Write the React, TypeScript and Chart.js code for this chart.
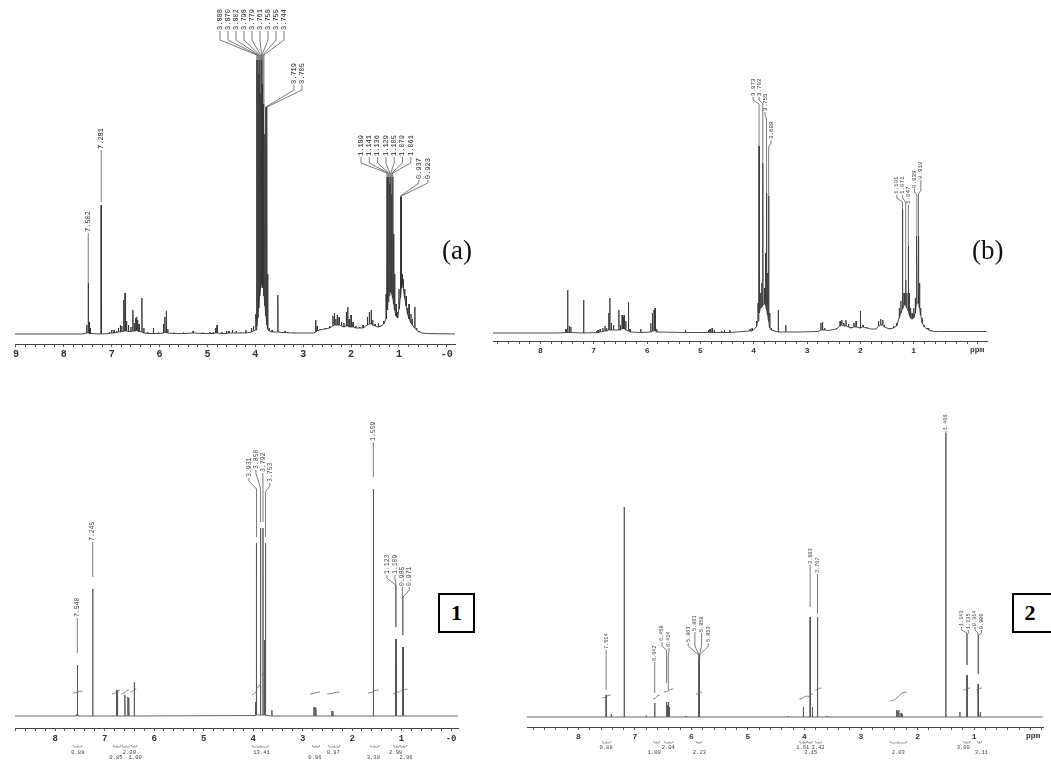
import React, { useEffect, useRef } from 'react';
import { Chart, registerables } from 'chart.js';
Chart.register(...registerables);

type Peak = [number, number, number]; // [ppm, peak top, local baseline]
type Integral = [number, number, number, number]; // [ppm from, ppm to, level start, level end]

// ===================== DATA =====================
// ---- Spectrum (a)
const peaksA: Peak[] = [
  [9.02, 0, 0], [7.6, 0, 0],
  [7.52, 9, 1], [7.49, 51, 1], [7.47, 12, 1], [7.45, 6, 0.5],
  [7.22, 129, 0],
  [7.05, 2, 0.5], [7.0, 4, 1], [6.95, 4, 1], [6.9, 3, 1.5], [6.86, 6, 2], [6.82, 9, 2], [6.79, 8, 2.5],
  [6.75, 34, 3], [6.72, 41, 3], [6.69, 13, 3], [6.65, 9, 2.5], [6.6, 7, 2.5],
  [6.56, 24, 3], [6.53, 11, 3], [6.5, 16, 3], [6.48, 17, 3.5], [6.46, 14, 3], [6.43, 10, 2.5],
  [6.37, 36, 2], [6.33, 6, 1], [6.25, 2, 0.5], [6.13, 6, 0.5], [6.02, 1.5, 0.5],
  [5.92, 10, 1], [5.89, 17, 1.5], [5.86, 23, 1.5], [5.83, 5, 1],
  [5.7, 1.5, 0.5], [5.5, 1.5, 0.5], [5.3, 3, 1], [5.1, 1.5, 0.5], [4.95, 2, 0.5], [4.88, 2, 0.5],
  [4.83, 6, 1], [4.8, 9, 1], [4.7, 2, 0.5], [4.6, 3, 0.5], [4.55, 3, 1], [4.48, 4, 1], [4.4, 3, 1], [4.3, 1.5, 1],
  [4.2, 4, 1], [4.08, 6, 2], [4.04, 8, 3],
  [3.99, 20, 4], [3.97, 274, 8], [3.95, 274, 16], [3.93, 260, 26], [3.91, 274, 38], [3.89, 240, 46],
  [3.87, 274, 50], [3.86, 250, 50], [3.84, 230, 46], [3.82, 227, 38], [3.8, 200, 28], [3.78, 227, 18],
  [3.76, 227, 9], [3.74, 60, 5], [3.71, 6, 3], [3.65, 4, 2],
  [3.53, 39, 2], [3.45, 2, 1.5], [3.38, 3, 1.5], [3.2, 1.5, 1], [2.9, 1, 1], [2.78, 1, 1],
  [2.74, 14, 2], [2.71, 8, 3], [2.65, 5, 4], [2.55, 6, 5], [2.45, 8, 6],
  [2.38, 18, 8], [2.35, 21, 9], [2.32, 15, 9], [2.29, 19, 9], [2.25, 17, 9], [2.2, 12, 8], [2.15, 11, 7],
  [2.1, 22, 8], [2.07, 27, 8], [2.04, 15, 7], [2.0, 19, 7], [1.96, 12, 7], [1.9, 8, 6], [1.82, 7, 6], [1.75, 9, 6],
  [1.66, 17, 9], [1.62, 22, 10], [1.58, 24, 10], [1.55, 14, 9], [1.5, 10, 8], [1.43, 11, 7], [1.37, 9, 8], [1.32, 13, 10],
  [1.27, 40, 15], [1.25, 157, 24], [1.23, 157, 32], [1.21, 157, 38], [1.19, 150, 42], [1.17, 157, 42],
  [1.15, 140, 40], [1.13, 157, 36], [1.11, 100, 30], [1.09, 60, 24], [1.06, 30, 18], [1.03, 22, 16],
  [1.0, 45, 25], [0.97, 137, 36], [0.95, 137, 46], [0.93, 60, 50], [0.91, 55, 46], [0.88, 45, 36],
  [0.85, 38, 28], [0.82, 26, 20], [0.79, 30, 15], [0.75, 20, 11], [0.72, 15, 9], [0.67, 27, 6],
  [0.63, 6, 4], [0.58, 3, 2], [0.52, 1, 1], [0.4, 0.5, 0.5], [-0.17, 0, 0],
];
const labelTextsA: string[][] = [
  ['3.888', '3.870', '3.802', '3.798', '3.779', '3.761', '3.758', '3.755', '3.744'],
  ['3.719', '3.705'],
  ['1.189', '1.141', '1.136', '1.129', '1.105', '1.079', '1.061'],
  ['0.937', '0.923'],
  ['7.502'],
  ['7.281'],
];
const labelPeaksA: number[][] = [
  [3.97, 3.95, 3.93, 3.91, 3.89, 3.87, 3.86, 3.84, 3.82],
  [3.78, 3.76],
  [1.25, 1.23, 1.21, 1.19, 1.17, 1.15, 1.13],
  [0.97, 0.95],
  [7.49],
  [7.22],
];
const majorTicksA = [9, 8, 7, 6, 5, 4, 3, 2, 1, 0];
const majorLabelsA = ['9', '8', '7', '6', '5', '4', '3', '2', '1', '-0'];

// ---- Spectrum (b)
const peaksB: Peak[] = [
  [8.89, 0, 0], [7.7, 0, 0],
  [7.52, 4, 0.5], [7.49, 43, 0.5], [7.46, 7, 0.5], [7.43, 6, 0.5],
  [7.19, 33, 0],
  [6.95, 2, 0.5], [6.92, 3, 0.5], [6.88, 4, 1], [6.83, 5, 1.5], [6.79, 7, 2], [6.76, 5, 2],
  [6.72, 20, 3], [6.7, 35, 3], [6.67, 10, 3], [6.63, 8, 3],
  [6.53, 23, 3], [6.5, 8, 3], [6.47, 18, 4], [6.45, 16, 4], [6.43, 18, 4], [6.4, 12, 3],
  [6.35, 31, 2], [6.32, 4, 1], [6.12, 4, 0.5],
  [5.93, 10, 1], [5.9, 20, 2], [5.87, 23, 2], [5.85, 25, 2], [5.82, 4, 1],
  [5.28, 3, 0.5], [4.85, 3, 0.5], [4.82, 4, 0.5], [4.78, 5, 0.5], [4.74, 3, 0.5], [4.6, 2, 0.5],
  [4.55, 3, 0.5], [4.45, 3, 0.5],
  [4.07, 4, 2], [4.03, 5, 2],
  [3.95, 12, 6], [3.92, 30, 12], [3.9, 187, 20], [3.87, 40, 25], [3.85, 50, 26], [3.83, 170, 28],
  [3.8, 45, 30], [3.78, 80, 28], [3.76, 140, 24], [3.74, 60, 18], [3.72, 137, 12], [3.7, 20, 5],
  [3.67, 5, 3], [3.62, 3, 2],
  [3.54, 23, 1], [3.4, 8, 1], [3.2, 1, 1],
  [2.8, 2, 1.5], [2.74, 10, 3], [2.71, 11, 3], [2.67, 5, 3], [2.6, 3, 2.5],
  [2.45, 5, 4], [2.38, 12, 7], [2.35, 13, 8], [2.31, 10, 7], [2.27, 13, 7], [2.22, 9, 6], [2.18, 6, 5],
  [2.12, 10, 6], [2.08, 12, 6], [2.0, 22, 5], [1.95, 8, 6], [1.88, 6, 5], [1.8, 4, 4], [1.7, 4, 4],
  [1.66, 12, 7], [1.62, 14, 8], [1.58, 13, 8], [1.55, 8, 6], [1.45, 5, 4], [1.38, 7, 5], [1.32, 10, 7],
  [1.27, 25, 15], [1.24, 32, 20], [1.21, 123, 24], [1.18, 40, 28], [1.15, 53, 28], [1.13, 40, 25],
  [1.1, 87, 22], [1.08, 40, 18], [1.06, 25, 15], [1.03, 20, 14], [1.0, 25, 15], [0.97, 35, 20],
  [0.95, 60, 28], [0.94, 97, 30], [0.91, 97, 30], [0.89, 50, 25], [0.87, 25, 18], [0.84, 15, 10],
  [0.8, 8, 6], [0.75, 5, 4], [0.72, 5, 3], [0.67, 3, 2], [0.6, 1.5, 1.5], [0.5, 1.5, 1.5], [-0.37, 1.5, 1.5],
];
const labelTextsB: string[][] = [
  ['3.873', '3.792', '3.755', '3.698'],
  ['1.101', '1.071', '1.047'],
  ['0.939', '0.910'],
];
const labelPeaksB: number[][] = [
  [3.9, 3.83, 3.76, 3.72],
  [1.21, 1.15, 1.1],
  [0.94, 0.91],
];
const majorTicksB = [8, 7, 6, 5, 4, 3, 2, 1];
const majorLabelsB = ['8', '7', '6', '5', '4', '3', '2', '1'];

// ---- Spectrum 1
const peaks1: Peak[] = [
  [8.81, 0, 0],
  [7.56, 2, 0], [7.55, 51, 0], [7.54, 2, 0],
  [7.24, 127, 0],
  [6.76, 26, 0], [6.74, 26, 0],
  [6.59, 21, 0],
  [6.53, 19, 0], [6.51, 18, 0],
  [6.4, 34, 0],
  [3.95, 14, 0.5], [3.94, 14, 1], [3.93, 173, 1], [3.85, 188, 1], [3.8, 188, 1], [3.77, 76, 1], [3.75, 173, 0.5],
  [3.62, 6, 0],
  [2.77, 9, 0], [2.75, 9, 0], [2.73, 8, 0],
  [2.41, 5, 0], [2.39, 5, 0],
  [1.57, 227, 0],
  [1.12, 77, 0], [1.11, 77, 0],
  [0.98, 69, 0], [0.97, 69, 0],
  [-0.14, 0, 0],
];
const labelTexts1: string[][] = [
  ['7.540'], ['7.245'], ['3.931', '3.850', '3.792', '3.753'], ['1.559'], ['1.123', '1.109'], ['0.985', '0.971'],
];
const labelPeaks1: number[][] = [
  [7.55], [7.24], [3.93, 3.85, 3.8, 3.75], [1.57], [1.12, 1.11], [0.98, 0.97],
];
const majorTicks1 = [8, 7, 6, 5, 4, 3, 2, 1, 0];
const majorLabels1 = ['8', '7', '6', '5', '4', '3', '2', '1', '-0'];
const integrals1: Integral[] = [
  [7.64, 7.45, 23, 25], [6.85, 6.69, 22, 26], [6.66, 6.51, 22, 26], [6.48, 6.36, 24, 27],
  [4.02, 3.94, 21, 24], [3.94, 3.86, 27, 31], [3.83, 3.74, 41, 45],
  [2.85, 2.65, 22, 24], [2.5, 2.26, 22, 24], [1.68, 1.46, 23, 26], [1.17, 1.04, 22, 24], [1.02, 0.88, 25, 27],
];
const integVals1 = ['0.88', '0.85', '2.00', '1.00', '13.41', '0.96', '0.97', '3.38', '2.98', '2.96'];
const integPos1 = [7.54, 6.77, 6.5, 6.38, 3.83, 2.75, 2.38, 1.57, 1.12, 0.91];
const integRow1 = [0, 1, 0, 1, 0, 1, 0, 1, 0, 1];
const integBrackets1: [number, number][] = [
  [7.64, 7.45], [6.83, 6.67], [6.65, 6.48], [6.46, 6.34], [4.02, 3.68],
  [2.81, 2.65], [2.48, 2.24], [1.64, 1.45], [1.17, 1.03], [1.03, 0.89],
];

// ---- Spectrum 2
const peaks2: Peak[] = [
  [8.91, 0, 0],
  [7.51, 22, 0], [7.42, 3, 0],
  [7.19, 210, 0],
  [6.8, 1.5, 0],
  [6.65, 14, 0],
  [6.44, 15, 0], [6.425, 12, 0], [6.41, 15, 0], [6.395, 10, 0],
  [6.1, 1, 0],
  [5.87, 58, 0], [5.865, 58, 0], [5.86, 58, 0], [5.855, 58, 0],
  [4.3, 1, 0],
  [4.02, 10, 0],
  [3.9, 100, 0], [3.86, 10, 0], [3.77, 100, 0],
  [3.6, 1, 0],
  [2.37, 7, 0], [2.35, 6, 0], [2.33, 7, 0], [2.29, 4, 0], [2.27, 3, 0],
  [1.5, 284, 0],
  [1.25, 5, 0],
  [1.13, 42, 0], [1.12, 42, 0],
  [0.93, 33, 0], [0.92, 33, 0], [0.89, 5, 0],
  [-0.22, 0, 0],
];
const labelTexts2: string[][] = [
  ['7.514'], ['6.642'], ['6.458', '6.414'], ['5.863', '5.861', '5.858', '5.853'],
  ['3.883', '3.767'], ['1.466'], ['1.149', '1.135'], ['0.914', '0.900'],
];
const labelPeaks2: number[][] = [
  [7.51], [6.65], [6.44, 6.41], [5.87, 5.865, 5.86, 5.855], [3.9, 3.77], [1.5], [1.13, 1.12], [0.93, 0.92],
];
const majorTicks2 = [8, 7, 6, 5, 4, 3, 2, 1];
const majorLabels2 = ['8', '7', '6', '5', '4', '3', '2', '1'];
const integrals2: Integral[] = [
  [7.58, 7.43, 19, 22], [6.68, 6.56, 18, 22], [6.49, 6.32, 25, 28], [5.92, 5.81, 23, 25],
  [4.09, 3.95, 18, 21], [3.95, 3.85, 20, 23], [3.81, 3.7, 27, 29], [2.49, 2.19, 16, 25],
  [1.19, 1.07, 27, 29], [0.96, 0.86, 27, 29],
];
const integVals2 = ['0.88', '1.00', '2.04', '2.23', '1.61', '3.15', '3.42', '2.03', '3.00', '3.11'];
const integPos2 = [7.51, 6.66, 6.41, 5.86, 4.03, 3.89, 3.76, 2.34, 1.19, 0.87];
const integRow2 = [0, 1, 0, 1, 0, 1, 0, 1, 0, 1];
const integBrackets2: [number, number][] = [
  [7.58, 7.43], [6.67, 6.56], [6.48, 6.32], [5.92, 5.81], [4.09, 3.95],
  [3.95, 3.85], [3.81, 3.69], [2.49, 2.19], [1.19, 1.07], [0.95, 0.86],
];

// ===================== LAYOUT / STYLE =====================
const MONO = '"Liberation Mono", "DejaVu Sans Mono", monospace';
type Num = number | number[];
interface GroupLayout { spacing: number; shift: number; text: Num; k1: Num; k2: Num; gap: Num }
interface Layout {
  left: number; top: number; w: number; h: number;
  padL: number; padR: number; padB: number;
  xMin: number; xMax: number; yMin: number; yMax: number;
  hw: number; color: string; lw: number;
  tickFont: number; tickPad: number; labelFont: number; labelColor: string;
  unitPos?: number;
  integFont?: number; brY?: number; rowY?: number[];
  groups: GroupLayout[];
}
interface Panel {
  id: string; peaks: Peak[]; labelTexts: string[][]; labelPeaks: number[][];
  majorTicks: number[]; majorLabels: string[];
  integrals?: Integral[]; integVals?: string[]; integPos?: number[]; integRow?: number[];
  integBrackets?: [number, number][];
  layout: Layout;
}

const g0 = (text: number, gap = 0): GroupLayout => ({ spacing: 0, shift: 0, text, k1: text, k2: text, gap });

const panels: Panel[] = [
  {
    id: 'a', peaks: peaksA, labelTexts: labelTextsA, labelPeaks: labelPeaksA,
    majorTicks: majorTicksA, majorLabels: majorLabelsA,
    layout: {
      left: 0, top: 0, w: 470, h: 370, padL: 15, padR: 15, padB: 6,
      xMin: -0.17, xMax: 9.02, yMin: -10, yMax: 334, hw: 0.004, color: '#333', lw: 0.9,
      tickFont: 10, tickPad: 1, labelFont: 7, labelColor: '#222',
      groups: [
        { spacing: 8, shift: -8.5, text: 303, k1: 294, k2: 279, gap: 0 },
        { spacing: 8, shift: 31.6, text: 249, k1: 244, k2: 227, gap: 0 },
        { spacing: 8.3, shift: -4, text: 177, k1: 171, k2: 161, gap: 0 },
        { spacing: 9, shift: 22.5, text: 154, k1: 151, k2: 138, gap: 0 },
        g0(101), g0(184, 3),
      ],
    },
  },
  {
    id: 'b', peaks: peaksB, labelTexts: labelTextsB, labelPeaks: labelPeaksB,
    majorTicks: majorTicksB, majorLabels: majorLabelsB,
    layout: {
      left: 480, top: 0, w: 571, h: 370, padL: 13, padR: 64, padB: 9,
      xMin: -0.375, xMax: 8.89, yMin: -8, yMax: 333, hw: 0.004, color: '#3a3a3a', lw: 0.9,
      tickFont: 8, tickPad: 2, labelFont: 5.8, labelColor: '#333', unitPos: -0.19,
      groups: [
        { spacing: 6, shift: -2.2, text: [236, 236, 221, 193], k1: [233, 233, 218, 190], k2: [229, 229, 214, 186], gap: 0 },
        { spacing: 5.8, shift: -2.9, text: [138, 138, 128], k1: [135, 135, 125], k2: [131, 131, 121], gap: 0 },
        { spacing: 6.4, shift: 0, text: [144, 153], k1: [141, 143], k2: [138, 139], gap: 0 },
      ],
    },
  },
  {
    id: '1', peaks: peaks1, labelTexts: labelTexts1, labelPeaks: labelPeaks1,
    majorTicks: majorTicks1, majorLabels: majorLabels1,
    integrals: integrals1, integVals: integVals1, integPos: integPos1, integRow: integRow1, integBrackets: integBrackets1,
    layout: {
      left: 0, top: 375, w: 480, h: 390, padL: 15, padR: 22, padB: 17,
      xMin: -0.14, xMax: 8.81, yMin: -12, yMax: 341, hw: 0.004, color: '#555', lw: 0.9,
      tickFont: 9, tickPad: 2, labelFont: 6.5, labelColor: '#444',
      integFont: 5.5, brY: 19, rowY: [25, 30],
      groups: [
        g0(98, 12), g0(174, 12),
        { spacing: 7, shift: -2, text: [238, 246, 243, 233], k1: [235, 243, 240, 230], k2: [227, 228, 228, 224], gap: 6 },
        g0(274, 12),
        { spacing: 8, shift: -5, text: 141, k1: 138, k2: 131, gap: 12 },
        { spacing: 7, shift: 3, text: 129, k1: 126, k2: 119, gap: 12 },
      ],
    },
  },
  {
    id: '2', peaks: peaks2, labelTexts: labelTexts2, labelPeaks: labelPeaks2,
    majorTicks: majorTicks2, majorLabels: majorLabels2,
    integrals: integrals2, integVals: integVals2, integPos: integPos2, integRow: integRow2, integBrackets: integBrackets2,
    layout: {
      left: 480, top: 375, w: 571, h: 390, padL: 47, padR: 8, padB: 18,
      xMin: -0.22, xMax: 8.91, yMin: -10, yMax: 342, hw: 0.003, color: '#555', lw: 0.9,
      tickFont: 8, tickPad: 2, labelFont: 5.2, labelColor: '#444', unitPos: -0.045,
      integFont: 5.5, brY: 16, rowY: [21, 26],
      groups: [
        g0(67, 5), g0(55, 10),
        { spacing: 7, shift: -2, text: [75, 69], k1: [71, 65], k2: [67, 62], gap: [19, 12] },
        { spacing: 6.7, shift: -1, text: [74, 85, 84, 74], k1: 71, k2: 62, gap: 0 },
        { spacing: 7, shift: 0, text: [152, 143], k1: [152, 143], k2: [152, 143], gap: [10, 3] },
        g0(286, 0),
        { spacing: 6.6, shift: -2, text: [90, 87], k1: [87, 84], k2: [84, 82], gap: 10 },
        { spacing: 6.7, shift: 0, text: [90, 87], k1: [87, 84], k2: [84, 82], gap: 10 },
      ],
    },
  },
];

// ===================== HELPERS =====================
const pick = (v: Num, i: number) => (Array.isArray(v) ? v[i] : v);

function tickValues(min: number, max: number): number[] {
  const out: number[] = [];
  for (let k = Math.ceil(min * 5 - 1e-9); k <= Math.floor(max * 5 + 1e-9); k++) out.push(Math.round(k * 2) / 10);
  return out;
}

function peakTop(peaks: Peak[], ppm: number): number {
  let best = peaks[0];
  peaks.forEach((p) => { if (Math.abs(p[0] - ppm) < Math.abs(best[0] - ppm)) best = p; });
  return best[1];
}

function nmrPlugin(p: Panel) {
  return {
    id: 'nmr_' + p.id,
    afterDraw(chart: any) {
      const ctx: CanvasRenderingContext2D = chart.ctx;
      const xs = chart.scales.x;
      const ys = chart.scales.y;
      const L = p.layout;
      const axisY = chart.chartArea.bottom;
      ctx.save();

      // integral curves
      if (p.integrals) {
        ctx.strokeStyle = '#666';
        ctx.lineWidth = 0.8;
        p.integrals.forEach(([a, b, y0, y1]) => {
          const x0 = xs.getPixelForValue(a), x1 = xs.getPixelForValue(b);
          const py0 = ys.getPixelForValue(y0), py1 = ys.getPixelForValue(y1);
          const xm = (x0 + x1) / 2;
          ctx.beginPath();
          ctx.moveTo(x0, py0);
          ctx.bezierCurveTo(xm, py0, xm, py1, x1, py1);
          ctx.stroke();
        });
      }
      // integral brackets and values
      if (p.integBrackets && p.integVals && p.integPos && p.integRow && L.rowY) {
        ctx.strokeStyle = '#777';
        ctx.lineWidth = 0.7;
        const by = axisY + (L.brY || 0);
        p.integBrackets.forEach(([a, b]) => {
          const x0 = xs.getPixelForValue(a), x1 = xs.getPixelForValue(b);
          const xm = (x0 + x1) / 2;
          ctx.beginPath();
          ctx.moveTo(x0, by - 2); ctx.lineTo(x0 + 1, by); ctx.lineTo(x1 - 1, by); ctx.lineTo(x1, by - 2);
          ctx.moveTo(xm, by); ctx.lineTo(xm, by - 1.5);
          ctx.stroke();
        });
        ctx.fillStyle = '#444';
        ctx.font = `${L.integFont}px ${MONO}`;
        ctx.textAlign = 'center';
        ctx.textBaseline = 'middle';
        p.integVals.forEach((t, i) => {
          ctx.fillText(t, xs.getPixelForValue(p.integPos![i]), axisY + L.rowY![p.integRow![i]]);
        });
      }
      // unit
      if (L.unitPos !== undefined) {
        ctx.fillStyle = '#333';
        ctx.font = `bold ${L.tickFont}px ${MONO}`;
        ctx.textAlign = 'center';
        ctx.textBaseline = 'top';
        ctx.fillText('ppm', xs.getPixelForValue(L.unitPos), axisY + 3 + L.tickPad);
      }
      // peak labels with leader lines
      ctx.font = `${L.labelFont}px ${MONO}`;
      ctx.fillStyle = L.labelColor;
      ctx.strokeStyle = '#444';
      ctx.lineWidth = 0.7;
      p.labelTexts.forEach((texts, g) => {
        const targets = p.labelPeaks[g];
        const G = L.groups[g];
        const px = targets.map((v) => xs.getPixelForValue(v));
        const mean = px.reduce((s, v) => s + v, 0) / px.length;
        texts.forEach((t, i) => {
          const lx = mean + G.shift + (i - (texts.length - 1) / 2) * G.spacing;
          const tb = ys.getPixelForValue(pick(G.text, i));
          const k1 = ys.getPixelForValue(pick(G.k1, i));
          const k2 = ys.getPixelForValue(pick(G.k2, i));
          const end = ys.getPixelForValue(peakTop(p.peaks, targets[i]) + pick(G.gap, i));
          ctx.save();
          ctx.translate(lx, tb);
          ctx.rotate(-Math.PI / 2);
          ctx.textAlign = 'left';
          ctx.textBaseline = 'middle';
          ctx.fillText(t, 1, 0);
          ctx.restore();
          ctx.beginPath();
          ctx.moveTo(lx, tb);
          ctx.lineTo(lx, k1);
          ctx.lineTo(px[i], k2);
          if (end > k2) ctx.lineTo(px[i], end);
          ctx.stroke();
        });
      });
      ctx.restore();
    },
  };
}

function makeConfig(p: Panel): any {
  const L = p.layout;
  const sorted = [...p.peaks].sort((a, b) => b[0] - a[0]);
  const pts: { x: number; y: number }[] = [];
  sorted.forEach(([ppm, top, base]) => {
    if (top > base) pts.push({ x: ppm + L.hw, y: base }, { x: ppm, y: top }, { x: ppm - L.hw, y: base });
    else pts.push({ x: ppm, y: base });
  });
  const ticks = tickValues(L.xMin, L.xMax);
  return {
    type: 'line',
    data: {
      datasets: [{ data: pts, borderColor: L.color, borderWidth: L.lw, pointRadius: 0, tension: 0, fill: false }],
    },
    options: {
      animation: false, responsive: false, devicePixelRatio: 1, events: [],
      layout: { padding: { left: L.padL, right: L.padR, top: 0, bottom: L.padB } },
      plugins: { legend: { display: false }, tooltip: { enabled: false }, title: { display: false } },
      scales: {
        x: {
          type: 'linear', reverse: true, min: L.xMin, max: L.xMax, bounds: 'data',
          afterBuildTicks: (s: any) => { s.ticks = ticks.map((v) => ({ value: v })); },
          afterFit: (s: any) => { s.height = 20; s.paddingLeft = 0; s.paddingRight = 0; },
          ticks: {
            autoSkip: false, maxRotation: 0, minRotation: 0, padding: L.tickPad, color: '#333',
            font: { family: MONO, size: L.tickFont, weight: 'bold' },
            callback: (v: number) => {
              const i = p.majorTicks.findIndex((m) => Math.abs(m - v) < 1e-6);
              return i >= 0 ? p.majorLabels[i] : '';
            },
          },
          grid: { drawOnChartArea: false, drawTicks: true, tickLength: 3, tickColor: '#555', tickWidth: 1 },
          border: { display: true, color: '#444', width: 1 },
        },
        y: { display: false, min: L.yMin, max: L.yMax },
      },
    },
    plugins: [nmrPlugin(p)],
  };
}

function NmrPanel({ panel }: { panel: Panel }) {
  const ref = useRef<HTMLCanvasElement>(null);
  useEffect(() => {
    const chart = new Chart(ref.current as HTMLCanvasElement, makeConfig(panel));
    return () => chart.destroy();
  }, [panel]);
  const L = panel.layout;
  return (
    <canvas
      ref={ref}
      width={L.w}
      height={L.h}
      style={{ position: 'absolute', left: L.left, top: L.top, width: L.w, height: L.h }}
    />
  );
}

const serif = '"Liberation Serif", "Times New Roman", serif';

export default function App() {
  return (
    <div style={{ position: 'absolute', left: 0, top: 0, width: 1051, height: 765, background: '#fff', overflow: 'hidden' }}>
      {panels.map((p) => <NmrPanel key={p.id} panel={p} />)}
      <div style={{ position: 'absolute', left: 442, top: 237, fontFamily: serif, fontSize: 27, lineHeight: 1, color: '#111' }}>(a)</div>
      <div style={{ position: 'absolute', left: 972, top: 237, fontFamily: serif, fontSize: 27, lineHeight: 1, color: '#111' }}>(b)</div>
      <div style={{
        position: 'absolute', left: 438, top: 593, width: 37, height: 40, boxSizing: 'border-box',
        border: '2px solid #000', display: 'flex', alignItems: 'center', justifyContent: 'center',
        fontFamily: serif, fontWeight: 'bold', fontSize: 22, background: '#fff',
      }}>1</div>
      <div style={{
        position: 'absolute', left: 1012, top: 593, width: 42, height: 40, boxSizing: 'border-box',
        border: '2px solid #000', display: 'flex', alignItems: 'center', justifyContent: 'center',
        paddingRight: 6, fontFamily: serif, fontWeight: 'bold', fontSize: 22, background: '#fff',
      }}>2</div>
    </div>
  );
}
